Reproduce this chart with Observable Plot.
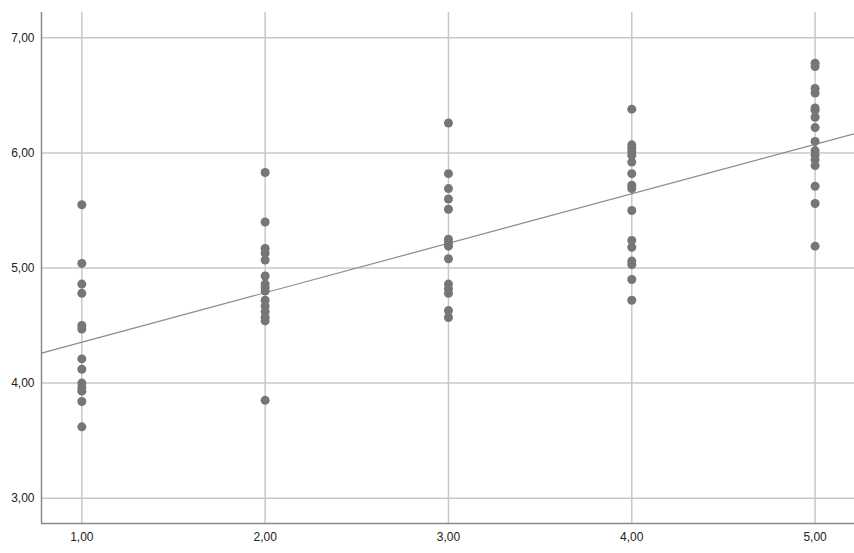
<!DOCTYPE html>
<html>
<head>
<meta charset="utf-8">
<script src="https://cdn.jsdelivr.net/npm/d3@7"></script>
<script src="https://cdn.jsdelivr.net/npm/@observablehq/plot@0.6"></script>
<style>
  html, body { margin: 0; padding: 0; background: #fff; }
  #chart svg { display: block; }
</style>
</head>
<body>
<div id="chart"></div>
<script>
// Group (x) values
const groups = [1, 2, 3, 4, 5];
const values1 = [5.55, 5.04, 4.86, 4.78, 4.50, 4.47, 4.21, 4.12, 4.00, 3.96, 3.93, 3.84, 3.62];
const values2 = [5.83, 5.40, 5.17, 5.13, 5.07, 4.93, 4.86, 4.83, 4.80, 4.72, 4.67, 4.62, 4.57, 4.54, 3.85];
const values3 = [6.26, 5.82, 5.69, 5.60, 5.51, 5.25, 5.22, 5.19, 5.08, 4.86, 4.82, 4.78, 4.63, 4.57];
const values4 = [6.38, 6.07, 6.04, 6.01, 5.98, 5.92, 5.82, 5.72, 5.69, 5.50, 5.24, 5.18, 5.06, 5.03, 4.90, 4.72];
const values5 = [6.78, 6.75, 6.56, 6.52, 6.39, 6.37, 6.31, 6.22, 6.10, 6.02, 5.98, 5.94, 5.89, 5.71, 5.56, 5.19];
// Fit line (linear) coefficients
const fitIntercept = 3.925;
const fitSlope = 0.43;
// Axis ticks
const xTicks = [1, 2, 3, 4, 5];
const yTicks = [3, 4, 5, 6, 7];
const xDomain = [0.78, 5.215];
const yDomain = [2.78, 7.22];

const series = [values1, values2, values3, values4, values5];
const points = groups.flatMap((g, i) => series[i].map(v => ({x: g, y: v})));
const fit = xDomain.map(x => ({x, y: fitIntercept + fitSlope * x}));
const fmt = d => d.toFixed(2).replace(".", ",");

const chart = Plot.plot({
  width: 854,
  height: 553,
  marginLeft: 41,
  marginRight: 0,
  marginTop: 12,
  marginBottom: 30,
  style: {fontFamily: "'Liberation Sans', Arial, sans-serif", fontSize: "12px", color: "#222", background: "#fff"},
  x: {domain: xDomain, ticks: xTicks, tickFormat: fmt, tickSize: 0, tickPadding: 9, label: null},
  y: {domain: yDomain, ticks: yTicks, tickFormat: fmt, tickSize: 0, tickPadding: 7, label: null},
  marks: [
    Plot.gridX(xTicks, {stroke: "#c8c8c8", strokeOpacity: 1, strokeWidth: 1.5}),
    Plot.gridY(yTicks, {stroke: "#c8c8c8", strokeOpacity: 1, strokeWidth: 1.5}),
    Plot.ruleX([xDomain[0]], {stroke: "#8a8a8a", strokeWidth: 1.5}),
    Plot.ruleY([yDomain[0]], {stroke: "#8a8a8a", strokeWidth: 1.5}),
    Plot.line(fit, {x: "x", y: "y", stroke: "#8a8a8a", strokeWidth: 1.2}),
    Plot.dot(points, {x: "x", y: "y", r: 4.5, fill: "#767676", stroke: "none"})
  ]
});
document.getElementById("chart").appendChild(chart);
</script>
</body>
</html>
